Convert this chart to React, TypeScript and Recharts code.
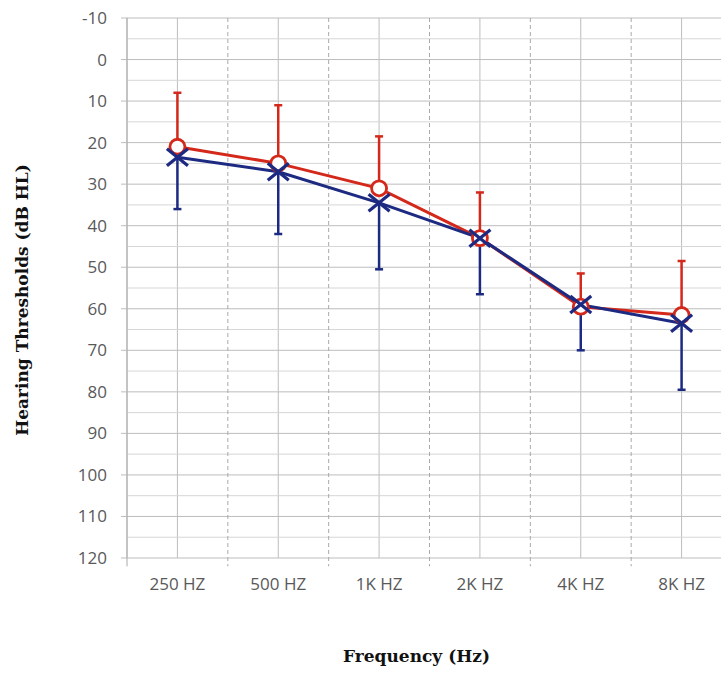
import React from 'react';
import {
  ComposedChart,
  Line,
  XAxis,
  YAxis,
  CartesianGrid,
  ErrorBar,
  ReferenceLine,
  Label,
} from 'recharts';

const categories = ['250 HZ', '500 HZ', '1K HZ', '2K HZ', '4K HZ', '8K HZ'];
const redMean = [21, 25, 31, 43, 59.5, 61.5];
const redSD = [13, 14, 12.5, 11, 8, 13];
const blueMean = [23.5, 27, 34.5, 43, 59, 63.5];
const blueSD = [12.5, 15, 16, 13.5, 11, 16];
const yTicks = [-10, 0, 10, 20, 30, 40, 50, 60, 70, 80, 90, 100, 110, 120];
const minorY = [-5, 5, 15, 25, 35, 45, 55, 65, 75, 85, 95, 105, 115];

// category slots: each category occupies one unit, centred at index + 0.5
const slotCenters = categories.map((_, i) => i + 0.5);
const boundaries = [0, ...categories.map((_, i) => i + 1)];

const RED = '#d4281a';
const BLUE = '#1c2a82';

const data = categories.map((c, i) => ({
  freq: c,
  pos: slotCenters[i],
  red: redMean[i],
  redErr: [redSD[i], 0],
  blue: blueMean[i],
  blueErr: [0, blueSD[i]],
}));

const XDot = (props: any) => {
  const { cx, cy, index } = props;
  if (cx == null || cy == null) return null;
  const sx = 10.5;
  const sy = 8.5;
  return (
    <g key={`x-${index}`}>
      <line x1={cx - sx} y1={cy - sy} x2={cx + sx} y2={cy + sy} stroke={BLUE} strokeWidth={3.2} />
      <line x1={cx - sx} y1={cy + sy} x2={cx + sx} y2={cy - sy} stroke={BLUE} strokeWidth={3.2} />
    </g>
  );
};

const tickFont = { fontFamily: '"Open Sans", sans-serif', fontSize: 17, fill: '#595959' };
const titleStyle: React.CSSProperties = {
  fontFamily: '"DejaVu Serif", serif',
  fontWeight: 'bold',
  fontSize: 17,
  fill: '#111',
};

export default function App() {
  return (
    <div style={{ position: 'absolute', left: 0, top: 0, width: 721, height: 673, overflow: 'hidden', background: '#fff' }}>
      <style>{`
        g.recharts-errorBar[stroke="${RED}"] > line:nth-of-type(1) { display: none; }
        g.recharts-errorBar[stroke="${BLUE}"] > line:nth-of-type(3) { display: none; }
      `}</style>
      <ComposedChart
        width={737}
        height={673}
        data={data}
        margin={{ top: 18, right: 5, bottom: 0, left: 0 }}
      >
        <CartesianGrid stroke="#bdbdbd" strokeWidth={1} />
        <XAxis
          dataKey="pos"
          type="number"
          domain={[0, categories.length]}
          allowDataOverflow
          ticks={slotCenters}
          interval={0}
          tickFormatter={(v: number) => categories[Math.floor(v)] ?? ''}
          height={115}
          axisLine={false}
          tickLine={false}
          tickSize={8}
          tickMargin={12}
          tick={tickFont}
        >
          <Label
            content={(p: any) => {
              const vb = p.viewBox;
              const x = vb.x + vb.width / 2 - 13;
              const y = vb.y + 98;
              return (
                <text x={x} y={y} textAnchor="middle" dominantBaseline="central" style={titleStyle}>
                  Frequency (Hz)
                </text>
              );
            }}
          />
        </XAxis>
        <YAxis
          type="number"
          domain={[-10, 120]}
          reversed
          ticks={yTicks}
          interval={0}
          width={127}
          axisLine={false}
          tickLine={{ stroke: '#bdbdbd' }}
          tickSize={6}
          tickMargin={14}
          tick={tickFont}
        >
          <Label
            content={(p: any) => {
              const vb = p.viewBox;
              const x = vb.x + 22;
              const y = vb.y + vb.height / 2 + 12;
              return (
                <text
                  x={x}
                  y={y}
                  transform={`rotate(-90 ${x} ${y})`}
                  textAnchor="middle"
                  dominantBaseline="central"
                  style={titleStyle}
                >
                  Hearing Thresholds (dB HL)
                </text>
              );
            }}
          />
        </YAxis>
        {minorY.map((v) => (
          <ReferenceLine key={`m${v}`} y={v} stroke="#d6d6d6" strokeWidth={1} />
        ))}
        {boundaries.map((b) => (
          <ReferenceLine
            key={`b${b}`}
            segment={[
              { x: b, y: -10 },
              { x: b, y: 122 },
            ]}
            ifOverflow="visible"
            stroke="#a9a9a9"
            strokeWidth={1}
            strokeDasharray={b === 0 ? undefined : '4 3'}
          />
        ))}
        <Line
          dataKey="red"
          stroke={RED}
          strokeWidth={3}
          dot={{ r: 7.5, fill: '#fff', stroke: RED, strokeWidth: 2.8 }}
          activeDot={false}
          isAnimationActive={false}
        >
          <ErrorBar dataKey="redErr" direction="y" width={4} stroke={RED} strokeWidth={2.5} isAnimationActive={false} />
        </Line>
        <Line
          dataKey="blue"
          stroke={BLUE}
          strokeWidth={3}
          dot={<XDot />}
          activeDot={false}
          isAnimationActive={false}
        >
          <ErrorBar dataKey="blueErr" direction="y" width={4} stroke={BLUE} strokeWidth={2.5} isAnimationActive={false} />
        </Line>
      </ComposedChart>
    </div>
  );
}
